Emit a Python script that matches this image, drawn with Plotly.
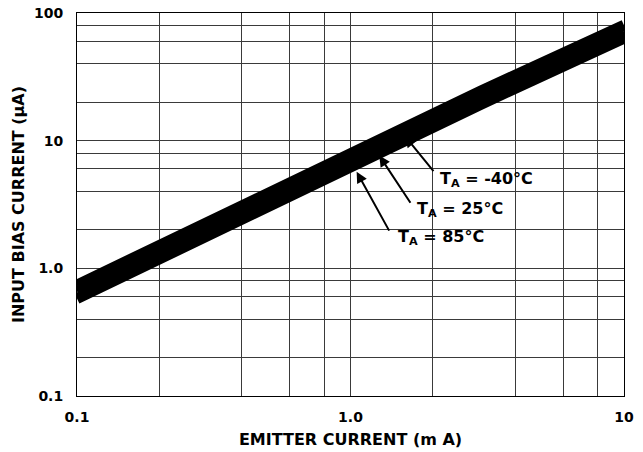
import math
import plotly.graph_objects as go

# Emitter current (mA) sample points shared by the three curves
emitter_ma = [0.1, 0.3, 1.0, 3.0, 10.0]

# Input bias current (µA) at each ambient temperature
ib_m40 = [0.74, 2.3, 8.0, 24.5, 80.0]
ib_25 = [0.66, 2.05, 7.1, 21.8, 71.0]
ib_85 = [0.58, 1.8, 6.3, 19.3, 63.5]

series_labels = ["T<sub>A</sub> = -40°C", "T<sub>A</sub> = 25°C", "T<sub>A</sub> = 85°C"]

# Decade tick labels and intermediate grid positions
x_ticks = [0.1, 1, 10]
x_ticktext = ["0.1", "1.0", "10"]
x_minor = [0.2, 0.4, 0.6, 0.8, 2, 4, 6, 8]
y_ticks = [0.1, 1, 10, 100]
y_ticktext = ["0.1", "1.0", "10", "100"]
y_minor = [0.2, 0.4, 0.6, 0.8, 2, 4, 6, 8, 20, 40, 60, 80]

FONT = "DejaVu Sans"
GRID = "#3a3a3a"


def loglog_interp(xs, ys, x):
    lx = math.log10(x)
    for i in range(len(xs) - 1):
        x0, x1 = math.log10(xs[i]), math.log10(xs[i + 1])
        if x0 <= lx <= x1:
            y0, y1 = math.log10(ys[i]), math.log10(ys[i + 1])
            return 10 ** (y0 + (y1 - y0) * (lx - x0) / (x1 - x0))
    return ys[-1]


fig = go.Figure()
for ys in (ib_85, ib_25, ib_m40):
    fig.add_trace(go.Scatter(
        x=emitter_ma, y=ys, mode="lines",
        line=dict(color="black", width=11),
        showlegend=False, hoverinfo="skip",
    ))

# Callouts: anchor x on each curve, arrow tail offset, standoff, text offset (px)
callouts = [
    (ib_m40, 1.513, 35, 43, 8.4, 38, -50),
    (ib_25, 1.223, 37, 56, 8.7, 41, -61),
    (ib_85, 1.021, 37, 67, 7.6, 43, -72),
]
for (ys, xa, ax, ay, so, tx, ty), label in zip(callouts, series_labels):
    ya = loglog_interp(emitter_ma, ys, xa)
    fig.add_annotation(
        x=math.log10(xa), y=math.log10(ya), xref="x", yref="y",
        text="", showarrow=True, ax=ax, ay=ay, axref="pixel", ayref="pixel",
        arrowhead=2, arrowsize=1.1, arrowwidth=2, arrowcolor="black", standoff=so,
    )
    fig.add_annotation(
        x=math.log10(xa), y=math.log10(ya), xref="x", yref="y",
        text=label, showarrow=False, xanchor="left", yanchor="middle",
        xshift=tx, yshift=ty,
        font=dict(family=FONT, size=16, color="black", weight="bold"),
    )

axis_common = dict(
    type="log", showgrid=True, gridcolor=GRID, gridwidth=1,
    showline=True, linecolor="black", linewidth=1, mirror=True,
    ticks="", zeroline=False, automargin=False,
    tickfont=dict(family=FONT, size=14, color="black", weight="bold"),
)

fig.update_xaxes(
    **axis_common, range=[-1, 1],
    tickvals=x_ticks, ticktext=x_ticktext,
    minor=dict(tickvals=x_minor, showgrid=True, gridcolor=GRID, gridwidth=1, ticks=""),
    ticklabelstandoff=8,
    title=dict(text="EMITTER CURRENT (m A)", standoff=10,
               font=dict(family=FONT, size=16, color="black", weight="bold")),
)
fig.update_yaxes(
    **axis_common, range=[-1, 2],
    tickvals=y_ticks, ticktext=y_ticktext,
    minor=dict(tickvals=y_minor, showgrid=True, gridcolor=GRID, gridwidth=1, ticks=""),
    ticklabelstandoff=10,
    title=dict(text="INPUT BIAS CURRENT (µA)", standoff=5,
               font=dict(family=FONT, size=16, color="black", weight="bold")),
)

fig.update_layout(
    width=643, height=452,
    margin=dict(l=77, r=19, t=13, b=56),
    paper_bgcolor="white", plot_bgcolor="white",
)

fig.write_html("out.html")
